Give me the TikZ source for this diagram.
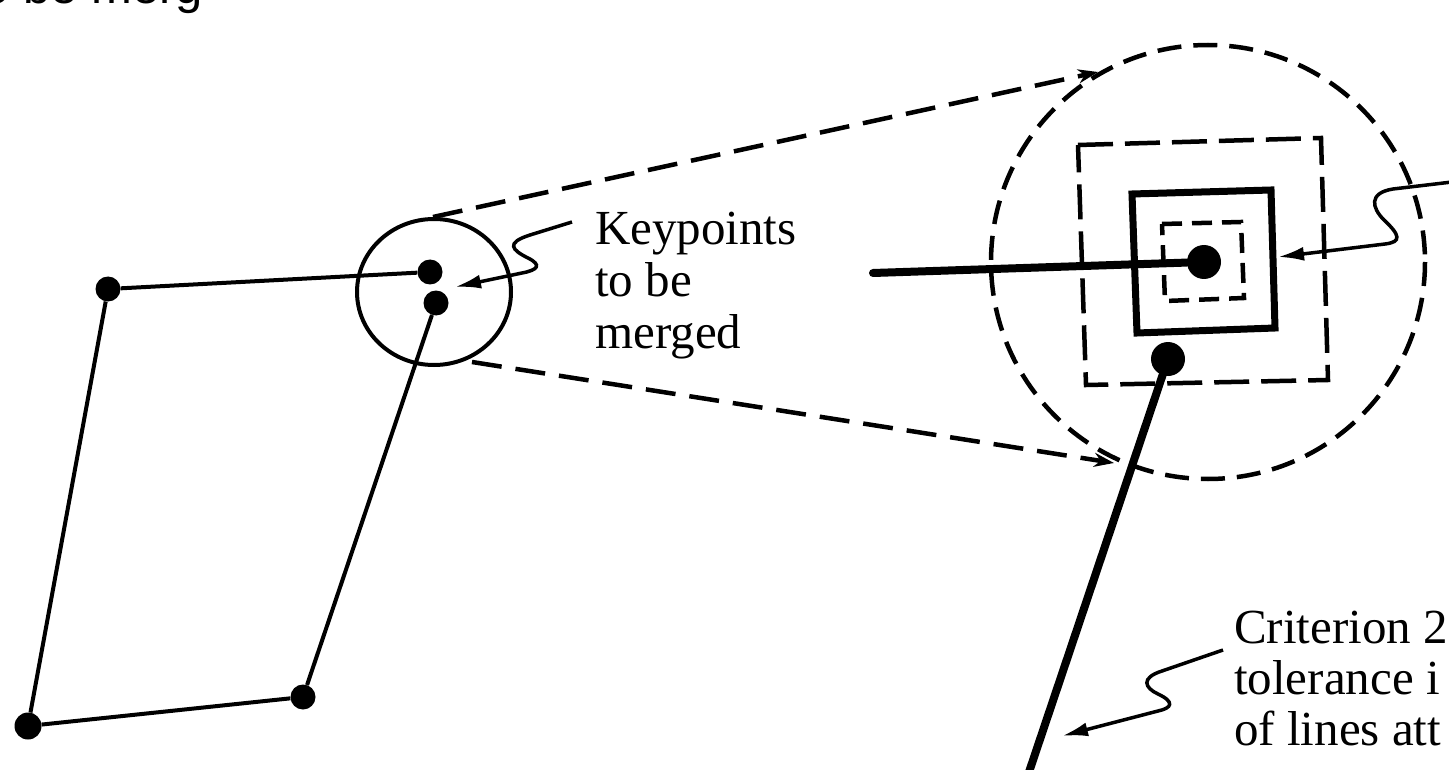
\documentclass[tikz,border=0pt]{standalone}
\usepackage{fontspec}
\setmainfont{Liberation Serif}
\newfontfamily\capsans{Liberation Sans}
\usetikzlibrary{arrows.meta}
\begin{document}
\begin{tikzpicture}[x=1pt,y=-1pt,
  dot/.style={circle,fill=black,draw=none,inner sep=0pt,minimum size=#1},
  thin edge/.style={line width=4pt},
  thick edge/.style={line width=8pt,line cap=round},
  dash line/.style={line width=4.5pt,dash pattern=on 30pt off 14pt},
  dash circ/.style={line width=4.5pt,dash pattern=on 24pt off 12pt},
  dash outer/.style={line width=4.5pt,dash pattern=on 35pt off 12pt},
  dash inner/.style={line width=4.5pt,dash pattern=on 20pt off 10pt},
  solid sq/.style={line width=7pt,line join=miter},
  leader/.style={line width=3.5pt,-{Latex[length=26pt,width=14pt]}},
  zoomarrow/.style={-{Stealth[length=20pt,width=14pt]}},
  label/.style={font=\fontsize{49}{52}\selectfont,anchor=base west,inner sep=0pt},
]
\useasboundingbox (0,0) rectangle (1449,770);
\clip (0,0) rectangle (1449,770);

% caption fragment at top
\node[font=\capsans\fontsize{49}{52}\selectfont,anchor=base west,inner sep=0pt] (cap) at (-17.6,4) {o be merg};

% left polygon
\node[dot=25pt] (p1) at (108,289) {};
\node[dot=27pt] (p2) at (28,726) {};
\node[dot=25pt] (p3) at (303,697) {};
\node[dot=25pt] (k1) at (430,272) {};
\node[dot=25pt] (k2) at (436,303) {};
\draw[thin edge] (p1) -- (k1);
\draw[thin edge] (p1) -- (p2);
\draw[thin edge] (p2) -- (p3);
\draw[thin edge] (p3) -- (k2);

% small circle
\draw[line width=4pt] (434,292) ellipse [x radius=77, y radius=73];

% big dashed circle
\draw[dash circ] (1208,262) circle [radius=217];

% zoom lines
\coordinate (zt0) at (433,217);
\coordinate (zt1) at (1098,72);
\coordinate (zb0) at (472,362);
\coordinate (zb1) at (1114,463);
\draw[dash line,zoomarrow] (zt0) -- (zt1);
\draw[dash line,zoomarrow] (zb0) -- (zb1);

% rectangles
\draw[dash outer] (1078,145) -- (1321,138) -- (1328,380) -- (1086,385) -- cycle;
\draw[solid sq] (1132,194) -- (1271,190) -- (1275,328) -- (1137,333) -- cycle;
\draw[dash inner] (1162,224) -- (1241,222) -- (1244,298) -- (1165,301) -- cycle;

% merged keypoints and thick lines
\node[dot=34pt] (K) at (1204,262) {};
\node[dot=34pt] (L) at (1168,359) {};
\coordinate (s1) at (873,273);
\coordinate (e1) at (1028,775);
\draw[thick edge] (s1) -- (K);
\draw[thick edge] (L) -- (e1);

% labels
\node[label] (kp1) at (595,245) {Keypoints};
\node[label] (kp2) at (595,297) {to be};
\node[label] (kp3) at (595,348) {merged};

\node[label] (c1) at (1234,643) {Criterion 2};
\node[label] (c2) at (1234,694) {tolerance i};
\node[label] (c3) at (1234,745) {of lines att};

% leaders
\coordinate (a0) at (572,222);
\coordinate (a1) at (455,287);
\draw[leader] (a0) -- (530,235) .. controls (505,243) and (512,250) .. (528,258)
  .. controls (542,265) and (538,270) .. (522,273) -- (a1);

\coordinate (b0) at (1452,182);
\coordinate (b1) at (1278,257);
\draw[leader] (b0) -- (1393,189) .. controls (1368,193) and (1372,208) .. (1384,220)
  .. controls (1400,235) and (1402,242) .. (1385,244) -- (b1);

\coordinate (c0) at (1223,650);
\coordinate (cc1) at (1062,736);
\draw[leader] (c0) -- (1162,671) .. controls (1140,678) and (1145,688) .. (1158,694)
  .. controls (1175,702) and (1172,708) .. (1158,711) -- (cc1);
\end{tikzpicture}
\end{document}
